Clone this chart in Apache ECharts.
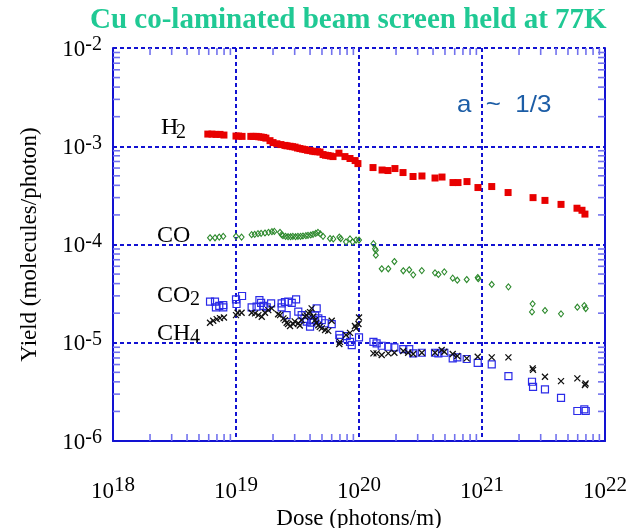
<!DOCTYPE html>
<html>
<head>
<meta charset="utf-8">
<script src="https://cdn.jsdelivr.net/npm/echarts@6/dist/echarts.min.js"></script>
<style>
html,body{margin:0;padding:0;background:#fff;}
#chart{width:626px;height:528px;}
</style>
</head>
<body>
<div id="chart"></div>
<script>
// ---- data (dose in photons/m, yield in molecules/photon) ----
const titleText = 'Cu co-laminated beam screen held at 77K';
const xAxisName = 'Dose (photons/m)';
const yAxisName = 'Yield (molecules/photon)';
const xTickExponents = [18, 19, 20, 21, 22];
const yTickExponents = [-6, -5, -4, -3, -2];

const h2Data = [
  [5.9e18,1.33e-3],[6.38e18,1.33e-3],[6.87e18,1.32e-3],[7.41e18,1.32e-3],[7.98e18,1.30e-3],
  [1.0e19,1.27e-3],[1.05e19,1.27e-3],[1.12e19,1.26e-3],[1.32e19,1.26e-3],[1.38e19,1.26e-3],
  [1.46e19,1.26e-3],[1.53e19,1.25e-3],[1.6e19,1.24e-3],[1.68e19,1.23e-3],[1.75e19,1.21e-3],
  [1.89e19,1.14e-3],[2.0e19,1.09e-3],[2.15e19,1.06e-3],[2.32e19,1.04e-3],[2.5e19,1.02e-3],
  [2.6e19,1.01e-3],[2.75e19,1.0e-3],[2.88e19,9.9e-4],[3.02e19,9.8e-4],[3.16e19,9.6e-4],
  [3.31e19,9.47e-4],[3.48e19,9.35e-4],[3.64e19,9.25e-4],[3.82e19,9.1e-4],[4.0e19,9.03e-4],
  [4.2e19,8.9e-4],[4.39e19,8.82e-4],[4.6e19,8.8e-4],[4.82e19,8.73e-4],[5.1e19,8.23e-4],
  [5.35e19,8.1e-4],[5.6e19,8.04e-4],[5.85e19,7.95e-4],[6.15e19,7.85e-4],[6.87e19,8.5e-4],
  [7.69e19,7.85e-4],[8.45e19,7.5e-4],[9.3e19,7.15e-4],[9.8e19,6.66e-4],[1.30e20,6.07e-4],
  [1.54e20,5.73e-4],[1.72e20,5.66e-4],[1.96e20,5.93e-4],[2.28e20,5.4e-4],[2.75e20,4.92e-4],
  [3.25e20,4.98e-4],[4.15e20,4.75e-4],[4.73e20,4.86e-4],[5.81e20,4.27e-4],[6.38e20,4.27e-4],
  [7.55e20,4.37e-4],[9.27e20,3.8e-4],[1.2e21,3.89e-4],[1.63e21,3.38e-4],[2.6e21,3.0e-4],
  [3.25e21,2.81e-4],[4.39e21,2.56e-4],[5.92e21,2.34e-4],[6.5e21,2.23e-4],[6.87e21,2.04e-4]
];

const coData = [
  [6.15e18,1.17e-4],[6.75e18,1.17e-4],[7.31e18,1.19e-4],[7.88e18,1.21e-4],[1.0e19,1.21e-4],
  [1.11e19,1.19e-4],[1.34e19,1.26e-4],[1.42e19,1.27e-4],[1.51e19,1.29e-4],[1.6e19,1.30e-4],
  [1.72e19,1.31e-4],[1.84e19,1.33e-4],[1.96e19,1.35e-4],[2.05e19,1.36e-4],[2.28e19,1.33e-4],
  [2.35e19,1.26e-4],[2.41e19,1.23e-4],[2.53e19,1.21e-4],[2.65e19,1.20e-4],[2.78e19,1.20e-4],
  [2.9e19,1.21e-4],[3.05e19,1.20e-4],[3.19e19,1.21e-4],[3.35e19,1.21e-4],[3.5e19,1.22e-4],
  [3.7e19,1.23e-4],[3.85e19,1.24e-4],[4.05e19,1.25e-4],[4.23e19,1.27e-4],[4.45e19,1.30e-4],
  [4.64e19,1.33e-4],[4.85e19,1.28e-4],[5.1e19,1.21e-4],[5.81e19,1.15e-4],[6.18e19,1.14e-4],
  [6.92e19,1.19e-4],[7.1e19,1.15e-4],[7.84e19,1.065e-4],[8.45e19,1.14e-4],[8.89e19,1.065e-4],
  [9.46e19,1.11e-4],[1.0e20,1.11e-4],[1.31e20,1.02e-4],[1.35e20,9.04e-5],[1.37e20,8.75e-5],
  [1.37e20,7.78e-5],[1.53e20,5.66e-5],[1.73e20,5.66e-5],[1.94e20,6.71e-5],[2.29e20,5.4e-5],
  [2.56e20,5.53e-5],[2.76e20,4.91e-5],[3.24e20,5.43e-5],[4.15e20,5.15e-5],[4.42e20,4.95e-5],
  [4.94e20,5.27e-5],[5.78e20,4.54e-5],[6.3e20,4.33e-5],[7.51e20,4.4e-5],[9.23e20,4.61e-5],
  [9.33e20,4.48e-5],[1.2e21,3.92e-5],[1.64e21,3.71e-5],[2.58e21,2.49e-5],[2.55e21,2.06e-5],
  [3.25e21,2.13e-5],[4.39e21,1.97e-5],[5.96e21,2.3e-5],[6.79e21,2.39e-5],[6.97e21,2.23e-5]
];

const co2Data = [
  [6.15e18,2.62e-5],[6.75e18,2.62e-5],[6.87e18,2.29e-5],[7.31e18,2.37e-5],[7.88e18,2.42e-5],
  [7.88e18,2.29e-5],[1.0e19,2.77e-5],[1.01e19,2.48e-5],[1.12e19,2.99e-5],[1.34e19,2.29e-5],
  [1.47e19,2.33e-5],[1.55e19,2.72e-5],[1.6e19,2.55e-5],[1.67e19,2.37e-5],[1.78e19,2.29e-5],
  [1.93e19,2.52e-5],[2.35e19,2.52e-5],[2.35e19,2.29e-5],[2.5e19,2.6e-5],[2.66e19,2.62e-5],
  [2.84e19,2.55e-5],[3.08e19,2.77e-5],[2.58e19,1.91e-5],[3.21e19,2.07e-5],[3.42e19,1.91e-5],
  [3.6e19,1.75e-5],[3.76e19,1.64e-5],[4.0e19,1.46e-5],[4.1e19,1.6e-5],[4.25e19,1.70e-5],
  [4.4e19,1.9e-5],[4.53e19,2.24e-5],[4.67e19,1.77e-5],[4.98e19,1.70e-5],[5.3e19,1.58e-5],
  [6.0e19,1.55e-5],[6.92e19,1.2e-5],[7.0e19,1.11e-5],[7.94e19,1.17e-5],[8.45e19,1.02e-5],
  [8.73e19,9.48e-6],[1.0e20,1.135e-5],[1.31e20,1.02e-5],[1.39e20,9.86e-6],[1.53e20,9.32e-6],
  [1.73e20,9.1e-6],[1.94e20,8.98e-6],[2.29e20,8.62e-6],[2.56e20,8.62e-6],[2.76e20,7.8e-6],
  [3.24e20,7.91e-6],[4.15e20,7.91e-6],[4.42e20,7.8e-6],[4.94e20,7.91e-6],[5.78e20,6.94e-6],
  [6.3e20,7.1e-6],[7.51e20,6.83e-6],[9.23e20,6.25e-6],[1.2e21,6.03e-6],[1.64e21,4.58e-6],
  [2.55e21,4.01e-6],[2.6e21,3.56e-6],[3.25e21,3.35e-6],[4.39e21,2.75e-6],[5.96e21,2.02e-6],
  [6.79e21,2.1e-6],[6.97e21,2.02e-6]
];

const ch4Data = [
  [6.15e18,1.6e-5],[6.53e18,1.675e-5],[6.97e18,1.74e-5],[7.41e18,1.78e-5],[7.98e18,1.81e-5],
  [1.0e19,1.91e-5],[1.03e19,2.02e-5],[1.11e19,2.02e-5],[1.34e19,2.02e-5],[1.43e19,1.99e-5],
  [1.52e19,1.91e-5],[1.62e19,1.84e-5],[1.72e19,2.02e-5],[1.83e19,2.15e-5],[1.95e19,2.24e-5],
  [2.2e19,1.95e-5],[2.28e19,1.91e-5],[2.43e19,1.77e-5],[2.5e19,1.7e-5],[2.58e19,1.6e-5],
  [2.65e19,1.55e-5],[2.75e19,1.48e-5],[2.92e19,1.55e-5],[3.0e19,1.65e-5],[3.21e19,1.58e-5],
  [3.3e19,1.5e-5],[3.42e19,1.70e-5],[3.64e19,1.84e-5],[3.75e19,1.9e-5],[3.87e19,1.99e-5],
  [4.0e19,2.05e-5],[4.12e19,2.24e-5],[4.25e19,1.85e-5],[4.39e19,1.70e-5],[4.5e19,1.6e-5],
  [4.67e19,1.51e-5],[4.8e19,1.45e-5],[4.98e19,1.40e-5],[5.3e19,1.35e-5],[5.62e19,1.32e-5],
  [6.0e19,1.675e-5],[6.92e19,9.7e-6],[7.0e19,1.02e-5],[7.84e19,1.2e-5],[8.45e19,1.26e-5],
  [9.27e19,1.48e-5],[9.46e19,1.40e-5],[9.9e19,1.55e-5],[1.0e20,1.81e-5],[1.31e20,7.8e-6],
  [1.39e20,7.8e-6],[1.53e20,7.5e-6],[1.73e20,7.8e-6],[1.94e20,7.91e-6],[2.29e20,8.23e-6],
  [2.51e20,7.91e-6],[2.76e20,7.67e-6],[3.24e20,7.91e-6],[4.15e20,7.91e-6],[4.7e20,8.43e-6],
  [4.94e20,8.1e-6],[5.78e20,7.67e-6],[6.3e20,7.32e-6],[7.51e20,6.94e-6],[9.23e20,7.2e-6],
  [1.2e21,7.1e-6],[1.64e21,7.1e-6],[2.58e21,5.48e-6],[2.6e21,5.3e-6],[3.25e21,4.5e-6],
  [4.39e21,4.07e-6],[5.96e21,4.34e-6],[6.87e21,3.71e-6],[6.95e21,3.85e-6]
];

// minor tick positions (2..9 x each decade) for the log axes
const minorMantissas = [2, 3, 4, 5, 6, 7, 8, 9];
const xMinor = [], yMinor = [];
for (let e = 18; e < 22; e++) minorMantissas.forEach(m => xMinor.push([m * Math.pow(10, e), 1e-6]));
for (let e = -6; e < -2; e++) minorMantissas.forEach(m => yMinor.push([1e18, m * Math.pow(10, e)]));

// ---- styles ----
const SERIF = "'Liberation Serif','Times New Roman',serif";
const SANS = "'Liberation Sans',Arial,sans-serif";
const GRID_BLUE = '#1212d2';
const TICK_BLUE = '#7272ee';

const chart = echarts.init(document.getElementById('chart'), null, {renderer: 'canvas'});

function expLabel(v) {
  const e = Math.round(Math.log10(v));
  return '{b|10}{s|' + e + '}';
}

function tickRender(isX) {
  return function (params, api) {
    const cs = params.coordSys;
    const p = api.coord([api.value(0), api.value(1)]);
    const L = 7;
    const st = {stroke: TICK_BLUE, lineWidth: 1.6};
    if (isX) {
      const bot = cs.y + cs.height, top = cs.y;
      return {type: 'group', children: [
        {type: 'line', shape: {x1: p[0], y1: bot, x2: p[0], y2: bot - L}, style: st},
        {type: 'line', shape: {x1: p[0], y1: top, x2: p[0], y2: top + L}, style: st}
      ]};
    } else {
      const l = cs.x, r = cs.x + cs.width;
      return {type: 'group', children: [
        {type: 'line', shape: {x1: l, y1: p[1], x2: l + L, y2: p[1]}, style: st},
        {type: 'line', shape: {x1: r, y1: p[1], x2: r - L, y2: p[1]}, style: st}
      ]};
    }
  };
}

const option = {
  backgroundColor: '#fff',
  animation: false,
  title: {
    text: titleText,
    left: 90, top: 6, padding: 0,
    textStyle: {fontFamily: SERIF, fontSize: 29, fontWeight: 'bold', color: '#20c994'}
  },
  grid: {left: 113, right: 21, top: 48, bottom: 87, containLabel: false, outerBoundsMode: 'none'},
  xAxis: [{
    type: 'log', logBase: 10, min: 1e18, max: 1e22, position: 'bottom',
    name: xAxisName, nameLocation: 'middle', nameGap: 61,
    nameTextStyle: {fontFamily: SERIF, fontSize: 23, color: '#000'},
    axisLine: {show: true, lineStyle: {color: GRID_BLUE, width: 2}},
    axisTick: {show: false},
    splitLine: {show: true, lineStyle: {color: GRID_BLUE, width: 2, type: [4, 3]}},
    axisLabel: {
      margin: 34, formatter: expLabel,
      rich: {
        b: {fontFamily: SERIF, fontSize: 23, color: '#000', lineHeight: 28, verticalAlign: 'bottom'},
        s: {fontFamily: SERIF, fontSize: 21, color: '#000', lineHeight: 22, verticalAlign: 'top'}
      }
    }
  }, {
    type: 'log', logBase: 10, min: 1e18, max: 1e22, position: 'top',
    axisLine: {show: false}, axisTick: {show: false}, axisLabel: {show: false}, splitLine: {show: false}
  }],
  yAxis: [{
    type: 'log', logBase: 10, min: 1e-6, max: 1e-2, position: 'left',
    name: yAxisName, nameLocation: 'middle', nameGap: 72, nameRotate: 90,
    nameTextStyle: {fontFamily: SERIF, fontSize: 23, color: '#000'},
    axisLine: {show: true, lineStyle: {color: GRID_BLUE, width: 2}},
    axisTick: {show: false},
    splitLine: {show: true, lineStyle: {color: GRID_BLUE, width: 2, type: [4, 3]}},
    axisLabel: {
      margin: 11, formatter: expLabel,
      rich: {
        b: {fontFamily: SERIF, fontSize: 23, color: '#000', lineHeight: 26, verticalAlign: 'bottom'},
        s: {fontFamily: SERIF, fontSize: 20, color: '#000', lineHeight: 21, verticalAlign: 'top'}
      }
    }
  }, {
    type: 'log', logBase: 10, min: 1e-6, max: 1e-2, position: 'right',
    axisLine: {show: true, onZero: false, lineStyle: {color: GRID_BLUE, width: 2}},
    axisTick: {show: false}, axisLabel: {show: false}, splitLine: {show: false}
  }],
  series: [
    {type: 'custom', name: 'xminor', xAxisIndex: 0, yAxisIndex: 0, data: xMinor,
     renderItem: tickRender(true), silent: true, z: 1},
    {type: 'custom', name: 'yminor', xAxisIndex: 0, yAxisIndex: 0, data: yMinor,
     renderItem: tickRender(false), silent: true, z: 1},
    {type: 'scatter', name: 'H2', data: h2Data, symbol: 'rect', symbolSize: 7,
     itemStyle: {color: '#e80000', opacity: 1}, z: 3},
    {type: 'scatter', name: 'CO', data: coData, symbol: 'diamond', symbolSize: [5, 6],
     itemStyle: {color: 'rgba(0,0,0,0)', borderColor: '#2e8a2e', borderWidth: 1.1, opacity: 1}, z: 3},
    {type: 'scatter', name: 'CO2', data: co2Data, symbol: 'rect', symbolSize: 7,
     itemStyle: {color: 'rgba(0,0,0,0)', borderColor: '#2b2be8', borderWidth: 1.2, opacity: 1}, z: 3},
    {type: 'scatter', name: 'CH4', data: ch4Data, symbol: 'path://M0,0L10,10M10,0L0,10', symbolSize: 6,
     itemStyle: {color: 'rgba(0,0,0,0)', borderColor: '#111', borderWidth: 1.3, opacity: 1}, z: 4}
  ],
  graphic: [
    {type: 'text', left: 161, top: 116, style: {text: 'H', font: '24px ' + SERIF, fill: '#000'}},
    {type: 'text', left: 176, top: 123, style: {text: '2', font: '20px ' + SERIF, fill: '#000'}},
    {type: 'text', left: 157, top: 224, style: {text: 'CO', font: '24px ' + SERIF, fill: '#000'}},
    {type: 'text', left: 157, top: 284, style: {text: 'CO', font: '24px ' + SERIF, fill: '#000'}},
    {type: 'text', left: 190, top: 290, style: {text: '2', font: '20px ' + SERIF, fill: '#000'}},
    {type: 'text', left: 157, top: 322, style: {text: 'CH', font: '24px ' + SERIF, fill: '#000'}},
    {type: 'text', left: 190, top: 328, style: {text: '4', font: '20px ' + SERIF, fill: '#000'}},
    {type: 'text', left: 457, top: 93, scaleX: 1.08, style: {text: 'a  ~  1/3', font: '24px ' + SANS, fill: '#1c5da6'}}
  ]
};
chart.setOption(option);
</script>
</body>
</html>
